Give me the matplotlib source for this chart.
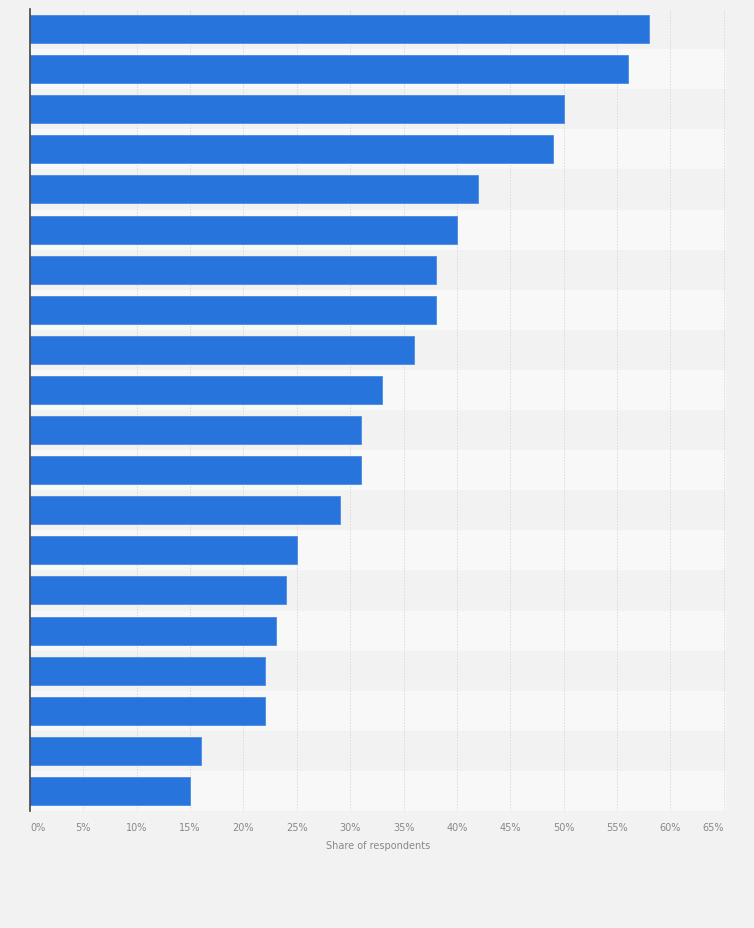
import matplotlib
matplotlib.use("Agg")
import matplotlib.pyplot as plt

categories = [f"Item {i}" for i in range(1, 21)]
values = [58, 56, 50, 49, 42, 40, 38, 38, 36, 33, 31, 31, 29, 25, 24, 23, 22, 22, 16, 15]
ticks = list(range(0, 70, 5))
tick_labels = [f"{t}%" for t in ticks]

W, H = 754, 929
fig = plt.figure(figsize=(W / 100, H / 100), dpi=100, facecolor="#f2f2f2")
left, right, top, bottom = 30, 726, 10, 812
ax = fig.add_axes([left / W, 1 - bottom / H, (right - left) / W, (bottom - top) / H])
ax.set_facecolor("#f2f2f2")

n = len(values)
for i in range(n):
    ax.axhspan(i - 0.5, i + 0.5, color="#f2f2f2" if i % 2 == 0 else "#f8f8f8", zorder=0, lw=0)

for t in ticks[1:]:
    ax.axvline(t, color="#dadada", lw=0.7, ls=(0, (1.5, 1.5)), zorder=1)

ax.barh(range(n), values, height=0.7, color="#2775dc", edgecolor="#4a8ae3", linewidth=0.6, zorder=2)

ax.set_xlim(0, 65.2)
ax.set_ylim(n - 0.5, -0.5)
ax.set_yticks([])
ax.set_xticks(ticks)
ax.set_xticklabels(tick_labels, fontsize=7, color="#888888")
lbls = ax.get_xticklabels()
lbls[0].set_horizontalalignment("left")
lbls[-1].set_horizontalalignment("right")
ax.tick_params(axis="x", length=0, pad=8)
ax.set_xlabel("Share of respondents", fontsize=7, color="#888888", labelpad=6)

for s in ["top", "right", "bottom"]:
    ax.spines[s].set_visible(False)
ax.spines["left"].set_color("#444444")
ax.spines["left"].set_linewidth(1.2)

fig.savefig("out.png", dpi=100, facecolor=fig.get_facecolor())
